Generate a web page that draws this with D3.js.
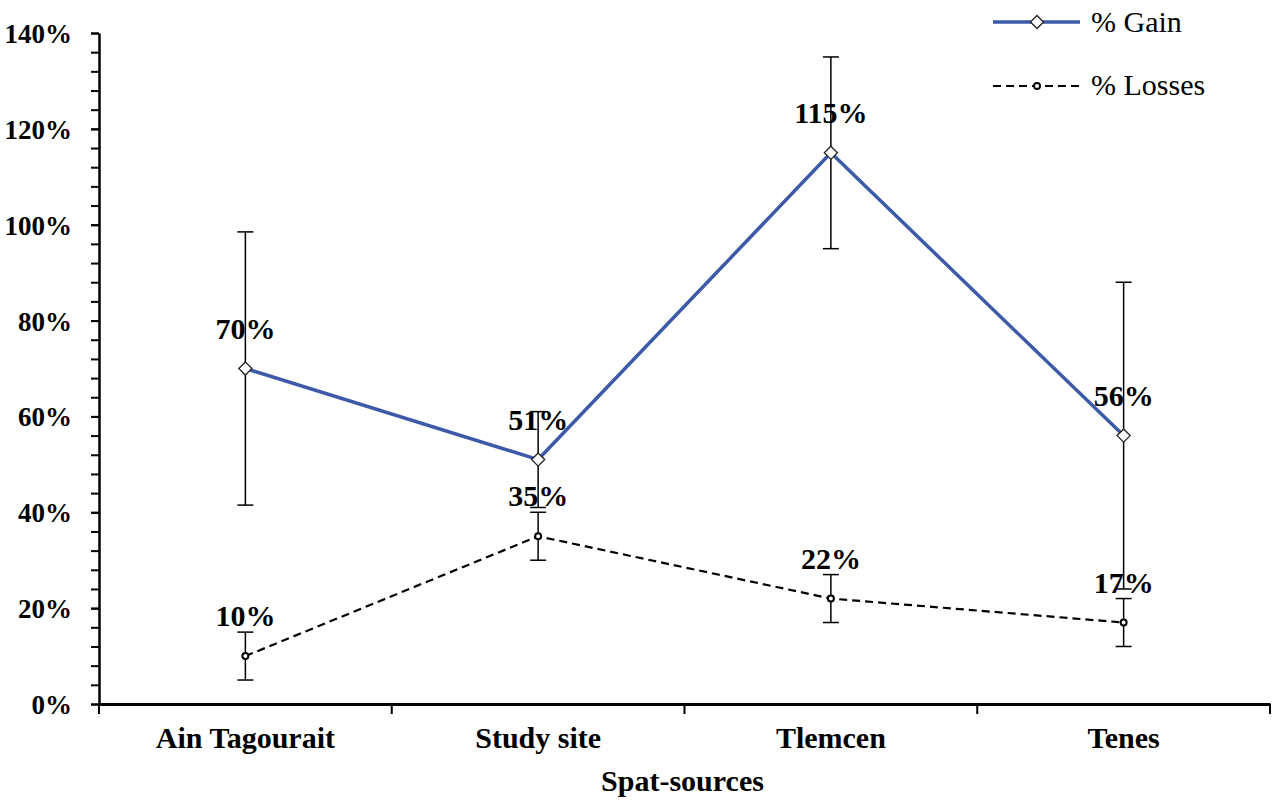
<!DOCTYPE html>
<html>
<head>
<meta charset="utf-8">
<script src="https://cdn.jsdelivr.net/npm/d3@7"></script>
<style>
  body { margin: 0; background: #fff; }
  text { font-family: "Liberation Serif", "Times New Roman", serif; }
</style>
</head>
<body>
<svg id="chart" width="1280" height="800"></svg>
<script>
const categories = ["Ain Tagourait", "Study site", "Tlemcen", "Tenes"];
const gain = [0.70, 0.51, 1.15, 0.56];
const gainErr = [0.285, 0.10, 0.20, 0.32];
const losses = [0.10, 0.35, 0.22, 0.17];
const lossesErr = [0.05, 0.05, 0.05, 0.05];
const yTicks = [0, 0.2, 0.4, 0.6, 0.8, 1.0, 1.2, 1.4];

const svg = d3.select("#chart");
const margin = { top: 33, right: 10, bottom: 96, left: 99 };
const width = 1280, height = 800;

const x = d3.scaleBand()
  .domain(categories)
  .range([margin.left, width - margin.right]);

const y = d3.scaleLinear()
  .domain([0, 1.4])
  .range([height - margin.bottom, margin.top]);

const blue = "#3c5aa8";

// minor ticks on y axis
svg.append("g")
  .attr("transform", `translate(${margin.left},0)`)
  .call(d3.axisLeft(y).tickValues(d3.range(0, 1.4001, 0.04)).tickSize(8).tickFormat(""))
  .call(g => g.select(".domain").remove())
  .call(g => g.selectAll("line").attr("stroke", "#000").attr("stroke-width", 2));

const yAxis = svg.append("g")
  .attr("transform", `translate(${margin.left},0)`)
  .call(d3.axisLeft(y).tickValues(yTicks).tickSize(8).tickSizeOuter(0).tickPadding(19)
    .tickFormat(d3.format(".0%")));
yAxis.select(".domain").attr("stroke", "#000").attr("stroke-width", 2.5);
yAxis.selectAll("line").attr("stroke", "#000").attr("stroke-width", 2);
yAxis.selectAll("text")
  .attr("fill", "#000")
  .style("font-size", "27px")
  .style("font-weight", "bold")
  .attr("dy", "0.35em");

// x axis with ticks at band boundaries
const xAxis = svg.append("g")
  .attr("transform", `translate(0,${y(0)})`)
  .call(d3.axisBottom(x).tickSize(0).tickPadding(0));
xAxis.select(".domain").attr("stroke", "#000").attr("stroke-width", 3);
xAxis.selectAll("text")
  .attr("fill", "#000")
  .attr("y", 44)
  .attr("dy", 0)
  .style("font-size", "30px")
  .style("font-weight", "bold");

const bounds = categories.map(c => x(c)).concat([x.range()[1]]);
svg.append("g").selectAll("line")
  .data(bounds)
  .join("line")
  .attr("x1", d => d).attr("x2", d => d)
  .attr("y1", y(0)).attr("y2", y(0) + 10)
  .attr("stroke", "#000").attr("stroke-width", 2);

svg.append("text")
  .attr("x", (x.range()[0] + x.range()[1]) / 2 - 2)
  .attr("y", 791)
  .attr("text-anchor", "middle")
  .style("font-size", "30px")
  .style("font-weight", "bold")
  .text("Spat-sources");

const cx = c => x(c) + x.bandwidth() / 2;

function errorBars(vals, errs) {
  const g = svg.append("g").attr("stroke", "#000").attr("stroke-width", 1.5);
  categories.forEach((c, i) => {
    const hi = y(vals[i] + errs[i]), lo = y(vals[i] - errs[i]);
    g.append("line").attr("x1", cx(c)).attr("x2", cx(c)).attr("y1", hi).attr("y2", lo);
    g.append("line").attr("x1", cx(c) - 8).attr("x2", cx(c) + 8).attr("y1", hi).attr("y2", hi);
    g.append("line").attr("x1", cx(c) - 8).attr("x2", cx(c) + 8).attr("y1", lo).attr("y2", lo);
  });
}

errorBars(gain, gainErr);
errorBars(losses, lossesErr);

const line = d3.line()
  .x((d, i) => cx(categories[i]))
  .y(d => y(d));

svg.append("path")
  .datum(losses)
  .attr("d", line)
  .attr("fill", "none")
  .attr("stroke", "#000")
  .attr("stroke-width", 2.2)
  .attr("stroke-dasharray", "8,5");

svg.append("path")
  .datum(gain)
  .attr("d", line)
  .attr("fill", "none")
  .attr("stroke", blue)
  .attr("stroke-width", 3.5);

const diamond = d3.symbol().type(d3.symbolDiamond2).size(110);

svg.append("g").selectAll("path")
  .data(gain)
  .join("path")
  .attr("d", diamond)
  .attr("transform", (d, i) => `translate(${cx(categories[i])},${y(d)})`)
  .attr("fill", "#fff")
  .attr("stroke", "#222")
  .attr("stroke-width", 1.3);

svg.append("g").selectAll("circle")
  .data(losses)
  .join("circle")
  .attr("cx", (d, i) => cx(categories[i]))
  .attr("cy", d => y(d))
  .attr("r", 3)
  .attr("fill", "#fff")
  .attr("stroke", "#000")
  .attr("stroke-width", 2);

// data labels
const fmt = d3.format(".0%");
[gain, losses].forEach(series => {
  svg.append("g").selectAll("text")
    .data(series)
    .join("text")
    .attr("x", (d, i) => cx(categories[i]))
    .attr("y", d => y(d) - 30)
    .attr("text-anchor", "middle")
    .style("font-size", "30px")
    .style("font-weight", "bold")
    .text(d => fmt(d));
});

// legend
const legend = svg.append("g");
legend.append("line")
  .attr("x1", 993).attr("x2", 1080).attr("y1", 22).attr("y2", 22)
  .attr("stroke", blue).attr("stroke-width", 3.5);
legend.append("path")
  .attr("d", diamond)
  .attr("transform", "translate(1037,22)")
  .attr("fill", "#fff").attr("stroke", "#222").attr("stroke-width", 1.3);
legend.append("text")
  .attr("x", 1091).attr("y", 32)
  .style("font-size", "30px")
  .text("% Gain");

legend.append("line")
  .attr("x1", 993).attr("x2", 1080).attr("y1", 86).attr("y2", 86)
  .attr("stroke", "#000").attr("stroke-width", 2.2).attr("stroke-dasharray", "8,5");
legend.append("circle")
  .attr("cx", 1037).attr("cy", 86).attr("r", 3)
  .attr("fill", "#fff").attr("stroke", "#000").attr("stroke-width", 2);
legend.append("text")
  .attr("x", 1091).attr("y", 95)
  .style("font-size", "30px")
  .text("% Losses");
</script>
</body>
</html>
